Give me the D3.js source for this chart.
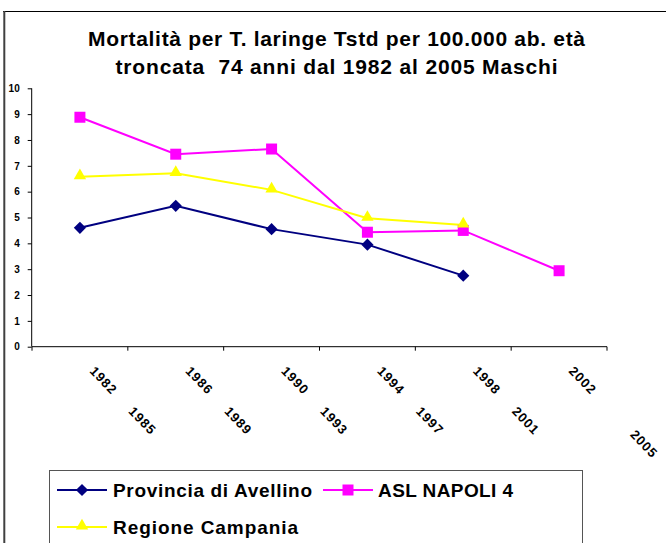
<!DOCTYPE html>
<html>
<head>
<meta charset="utf-8">
<script src="https://cdn.jsdelivr.net/npm/d3@7"></script>
<style>
  html, body { margin: 0; padding: 0; background: #fff; }
  svg { display: block; font-family: Arial, "Liberation Sans", sans-serif; }
</style>
</head>
<body>
<svg id="chart" width="666" height="543"></svg>
<script>
const titleLines = [
  "Mortalità per T. laringe Tstd per 100.000 ab. età",
  "troncata  74 anni dal 1982 al 2005 Maschi"
];
const categories = ["1982-1985", "1986-1989", "1990-1993", "1994-1997", "1998-2001", "2002-2005"];
const tickLabels = [
  "1982     1985",
  "1986     1989",
  "1990     1993",
  "1994     1997",
  "1998     2001",
  "2002            2005"
];
const yTicks = [0, 1, 2, 3, 4, 5, 6, 7, 8, 9, 10];
const seriesNames = ["Provincia di Avellino", "ASL NAPOLI 4", "Regione Campania"];
const avellino = [4.6, 5.45, 4.55, 3.95, 2.75, null];
const napoli4 = [8.88, 7.45, 7.65, 4.43, 4.5, 2.94];
const campania = [6.58, 6.71, 6.07, 4.97, 4.71, null];

const series = [
  { name: seriesNames[0], values: avellino, color: "#000080", symbol: "diamond" },
  { name: seriesNames[1], values: napoli4, color: "#FF00FF", symbol: "square" },
  { name: seriesNames[2], values: campania, color: "#FFFF00", symbol: "triangle" }
];

const svg = d3.select("#chart");
svg.append("rect").attr("width", 666).attr("height", 543).attr("fill", "#fff");

// outer frame
svg.append("line").attr("x1", 3).attr("x2", 666).attr("y1", 11.5).attr("y2", 11.5)
  .attr("stroke", "#000").attr("stroke-width", 1);
svg.append("line").attr("x1", 4.3).attr("x2", 4.3).attr("y1", 11).attr("y2", 543)
  .attr("stroke", "#404040").attr("stroke-width", 2);

// title
const titleW = [497, 442];
const titleY = [46, 74];
svg.selectAll("text.title").data(titleLines).join("text")
  .attr("class", "title")
  .attr("x", 336.5).attr("y", (d, i) => titleY[i])
  .attr("text-anchor", "middle")
  .attr("font-size", 21).attr("font-weight", "bold")
  .style("white-space", "pre")
  .attr("textLength", (d, i) => titleW[i]).attr("lengthAdjust", "spacing")
  .text(d => d);

// scales
const x = d3.scaleBand().domain(categories).range([32, 607]).paddingInner(0).paddingOuter(0);
const y = d3.scaleLinear().domain([0, 10]).range([346.7, 88.3]);
const cx = c => x(c) + x.bandwidth() / 2;

// y axis
const yAxis = d3.axisLeft(y).tickValues(yTicks).tickSize(4).tickPadding(8).tickFormat(d3.format("d"));
const yg = svg.append("g").attr("transform", "translate(31.7,0)").call(yAxis);
yg.select(".domain").attr("stroke", "#000").attr("d", `M0,${y(10)}V${y(0)}`);
yg.selectAll(".tick line").attr("stroke", "#000");
yg.selectAll(".tick text").attr("font-size", 10).attr("font-weight", "bold")
  .attr("font-family", "Arial, 'Liberation Sans', sans-serif").attr("fill", "#000");

// x axis (boundary ticks)
const boundaries = categories.map(c => x(c)).concat([x(categories[categories.length - 1]) + x.bandwidth()]);
const xg = svg.append("g").attr("transform", `translate(0,${y(0)})`);
xg.append("line").attr("x1", x.range()[0]).attr("x2", x.range()[1]).attr("stroke", "#000");
xg.selectAll("line.tk").data(boundaries).join("line").attr("class", "tk")
  .attr("x1", d => d).attr("x2", d => d).attr("y1", 0).attr("y2", 4).attr("stroke", "#000");

// x labels rotated
svg.selectAll("text.xl").data(categories).join("text")
  .attr("class", "xl")
  .attr("transform", (c) => `translate(${cx(c) + 9},${y(0) + 25}) rotate(46)`)
  .attr("font-size", 13).attr("font-weight", "bold")
  .attr("letter-spacing", 1)
  .style("white-space", "pre")
  .attr("fill", "#000")
  .text((c, i) => tickLabels[i]);

// symbols
function symPath(kind) {
  if (kind === "diamond") return d3.symbol().type(d3.symbolSquare).size(74)();
  if (kind === "square") return d3.symbol().type(d3.symbolSquare).size(121)();
  return d3.symbol().type(d3.symbolTriangle).size(66)();
}
function symTransform(kind, px, py) {
  if (kind === "diamond") return `translate(${px},${py}) rotate(45)`;
  if (kind === "triangle") return `translate(${px},${py - 1})`;
  return `translate(${px},${py})`;
}

const line = d3.line()
  .defined(d => d.v != null)
  .x(d => cx(d.c)).y(d => y(d.v));

series.forEach(s => {
  const pts = categories.map((c, i) => ({ c, v: s.values[i] }));
  svg.append("path").datum(pts).attr("d", line)
    .attr("fill", "none").attr("stroke", s.color).attr("stroke-width", 2);
});
series.forEach(s => {
  const pts = categories.map((c, i) => ({ c, v: s.values[i] })).filter(d => d.v != null);
  svg.selectAll(null).data(pts).join("path")
    .attr("d", symPath(s.symbol))
    .attr("transform", d => symTransform(s.symbol, cx(d.c), y(d.v)))
    .attr("fill", s.color);
});

// legend
const lg = svg.append("g");
lg.append("rect").attr("x", 49.5).attr("y", 470.5).attr("width", 533).attr("height", 90)
  .attr("fill", "#fff").attr("stroke", "#555").attr("stroke-width", 1);
const legPos = [
  { lx: 57, ly: 490, tx: 113, ty: 497, w: 199 },
  { lx: 323, ly: 490, tx: 378, ty: 497, w: 135 },
  { lx: 57, ly: 527, tx: 113, ty: 533.5, w: 185 }
];
series.forEach((s, i) => {
  const p = legPos[i];
  lg.append("line").attr("x1", p.lx).attr("x2", p.lx + 50).attr("y1", p.ly).attr("y2", p.ly)
    .attr("stroke", s.color).attr("stroke-width", 2);
  lg.append("path").attr("d", symPath(s.symbol))
    .attr("transform", symTransform(s.symbol, p.lx + 25, p.ly)).attr("fill", s.color);
  lg.append("text").attr("x", p.tx).attr("y", p.ty)
    .attr("font-size", 19).attr("font-weight", "bold").attr("fill", "#000")
    .attr("textLength", p.w).attr("lengthAdjust", "spacing")
    .text(s.name);
});
</script>
</body>
</html>
